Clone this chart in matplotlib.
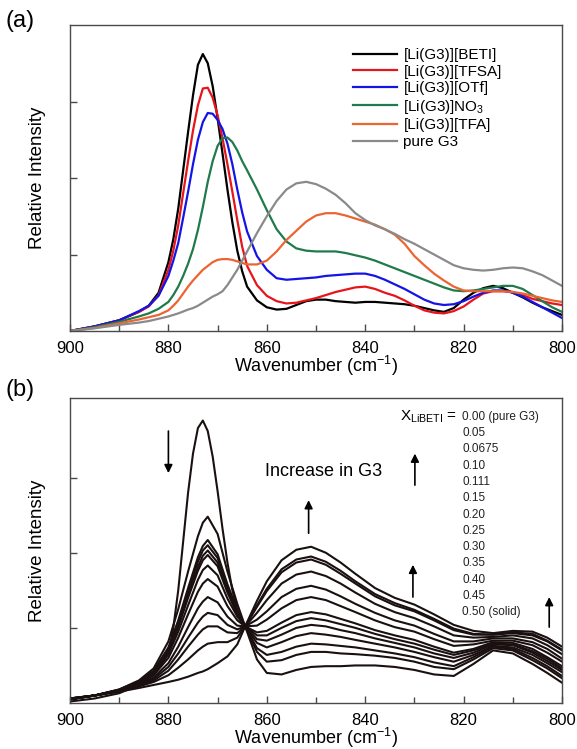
import matplotlib
matplotlib.use("Agg")
import matplotlib.pyplot as plt

plt.rcParams['font.family'] = ['Liberation Sans', 'DejaVu Sans']
plt.rcParams['mathtext.fontset'] = 'custom'
plt.rcParams['mathtext.rm'] = 'Liberation Sans'
plt.rcParams['mathtext.it'] = 'Liberation Sans:italic'

# ---- panel (a): Raman spectra of the equimolar complexes ----
wn_a = [900, 895, 890, 886, 884, 882, 880, 879, 878, 877, 876, 875, 874, 873, 872, 871, 870,
        869, 868, 867, 866, 865, 864, 862, 860, 858, 856, 854, 852, 850, 848, 846,
        844, 842, 840, 838, 836, 834, 832, 830, 828, 826, 824, 822, 820, 818, 816,
        814, 812, 810, 808, 806, 804, 802, 800]

beti = [0.00, 0.06, 0.14, 0.25, 0.33, 0.50, 0.90, 1.20, 1.60, 2.10, 2.60, 3.08, 3.48, 3.62, 3.50, 3.20, 2.78,
        2.32, 1.85, 1.42, 1.05, 0.78, 0.58, 0.40, 0.31, 0.28, 0.29, 0.34, 0.39, 0.41, 0.41, 0.39,
        0.38, 0.37, 0.38, 0.38, 0.37, 0.36, 0.35, 0.33, 0.30, 0.27, 0.25, 0.30, 0.41, 0.50, 0.56,
        0.59, 0.56, 0.50, 0.44, 0.37, 0.31, 0.26, 0.21]
tfsa = [0.00, 0.06, 0.14, 0.25, 0.32, 0.47, 0.80, 1.05, 1.38, 1.80, 2.22, 2.62, 2.95, 3.17, 3.18, 3.05, 2.82,
        2.52, 2.18, 1.82, 1.45, 1.10, 0.85, 0.60, 0.46, 0.39, 0.36, 0.37, 0.40, 0.43, 0.47, 0.51,
        0.54, 0.57, 0.58, 0.55, 0.50, 0.46, 0.40, 0.33, 0.27, 0.24, 0.23, 0.26, 0.32, 0.41, 0.49,
        0.52, 0.52, 0.51, 0.47, 0.42, 0.39, 0.36, 0.34]
otf = [0.00, 0.06, 0.14, 0.26, 0.33, 0.46, 0.72, 0.92, 1.15, 1.48, 1.82, 2.18, 2.50, 2.73, 2.85, 2.84, 2.76,
       2.64, 2.45, 2.18, 1.85, 1.55, 1.30, 0.98, 0.80, 0.69, 0.67, 0.68, 0.69, 0.70, 0.72, 0.73,
       0.74, 0.75, 0.75, 0.72, 0.67, 0.61, 0.55, 0.48, 0.41, 0.36, 0.34, 0.35, 0.39, 0.45, 0.50,
       0.53, 0.53, 0.50, 0.45, 0.38, 0.31, 0.24, 0.17]
no3 = [0.00, 0.05, 0.12, 0.19, 0.23, 0.29, 0.38, 0.47, 0.58, 0.72, 0.88, 1.07, 1.32, 1.62, 1.95, 2.22, 2.42,
       2.52, 2.53, 2.47, 2.36, 2.22, 2.10, 1.85, 1.58, 1.33, 1.17, 1.08, 1.05, 1.04, 1.04, 1.04,
       1.02, 0.99, 0.96, 0.92, 0.87, 0.82, 0.77, 0.72, 0.67, 0.62, 0.57, 0.53, 0.52, 0.53, 0.55,
       0.57, 0.59, 0.59, 0.55, 0.47, 0.39, 0.31, 0.25]
tfa = [0.00, 0.04, 0.10, 0.15, 0.18, 0.21, 0.27, 0.33, 0.40, 0.49, 0.58, 0.66, 0.73, 0.80, 0.85, 0.90, 0.93,
       0.94, 0.94, 0.93, 0.91, 0.89, 0.87, 0.87, 0.92, 1.04, 1.19, 1.31, 1.43, 1.51, 1.54, 1.54,
       1.51, 1.47, 1.43, 1.39, 1.33, 1.26, 1.14, 0.98, 0.86, 0.75, 0.66, 0.58, 0.53, 0.52, 0.52,
       0.52, 0.52, 0.51, 0.49, 0.46, 0.43, 0.40, 0.38]
g3 = [0.00, 0.035, 0.08, 0.11, 0.13, 0.16, 0.19, 0.21, 0.23, 0.255, 0.28, 0.30, 0.33, 0.37, 0.41, 0.45, 0.48,
      0.52, 0.60, 0.70, 0.80, 0.92, 1.04, 1.28, 1.50, 1.70, 1.85, 1.93, 1.95, 1.92, 1.86, 1.78,
      1.67, 1.54, 1.45, 1.38, 1.33, 1.27, 1.20, 1.14, 1.07, 1.00, 0.93, 0.86, 0.82, 0.80, 0.79,
      0.80, 0.82, 0.83, 0.82, 0.78, 0.73, 0.66, 0.59]

labels_a = ['[Li(G3)][BETI]', '[Li(G3)][TFSA]', '[Li(G3)][OTf]',
            '[Li(G3)]NO$_3$', '[Li(G3)][TFA]', 'pure G3']
colors_a = ['#000000', '#e8141c', '#1414e6', '#1f7a4c', '#ec6432', '#8a8a8a']

# ---- panel (b): G3 / LiBETI mixtures ----
wn_b = [900, 895, 890, 886, 883, 880, 878, 876, 874, 873, 872, 870, 868, 866, 864.4,
        862, 860, 857, 854, 851, 848, 845, 842, 838, 834, 830, 826, 822, 818, 814,
        810, 806, 803, 800]

b_000 = [0.06, 0.10, 0.15, 0.20, 0.24, 0.28, 0.31, 0.35, 0.40, 0.42, 0.45, 0.53, 0.62, 0.78, 1.02,
         1.36, 1.62, 1.90, 2.04, 2.08, 2.00, 1.87, 1.72, 1.53, 1.40, 1.31, 1.18, 1.04, 0.96, 0.93,
         0.96, 0.95, 0.87, 0.75]
b_005 = [0.06, 0.10, 0.16, 0.22, 0.28, 0.37, 0.47, 0.58, 0.70, 0.75, 0.79, 0.81, 0.81, 0.87, 1.02,
         1.30, 1.52, 1.78, 1.91, 1.95, 1.88, 1.76, 1.62, 1.45, 1.33, 1.24, 1.12, 0.99, 0.92, 0.91,
         0.94, 0.92, 0.83, 0.71]
b_0675 = [0.06, 0.10, 0.16, 0.23, 0.30, 0.43, 0.58, 0.75, 0.91, 0.98, 1.02, 1.02, 0.94, 0.93, 1.02,
          1.28, 1.49, 1.74, 1.87, 1.91, 1.84, 1.72, 1.59, 1.42, 1.30, 1.22, 1.10, 0.97, 0.91, 0.91,
          0.93, 0.90, 0.82, 0.70]
b_010 = [0.06, 0.10, 0.16, 0.24, 0.32, 0.48, 0.66, 0.87, 1.07, 1.15, 1.20, 1.17, 1.04, 0.98, 1.02,
         1.20, 1.37, 1.59, 1.71, 1.75, 1.69, 1.59, 1.47, 1.32, 1.21, 1.13, 1.02, 0.90, 0.87, 0.88,
         0.90, 0.86, 0.77, 0.65]
b_0111 = [0.06, 0.10, 0.16, 0.25, 0.34, 0.53, 0.75, 1.01, 1.26, 1.35, 1.41, 1.34, 1.15, 1.03, 1.02,
          1.11, 1.22, 1.41, 1.52, 1.56, 1.51, 1.42, 1.32, 1.20, 1.10, 1.03, 0.92, 0.82, 0.82, 0.86,
          0.86, 0.81, 0.72, 0.59]
b_015 = [0.05, 0.10, 0.17, 0.26, 0.37, 0.60, 0.87, 1.18, 1.48, 1.59, 1.65, 1.55, 1.29, 1.10, 1.02,
         1.03, 1.11, 1.26, 1.37, 1.41, 1.37, 1.29, 1.21, 1.10, 1.01, 0.95, 0.85, 0.76, 0.78, 0.83,
         0.83, 0.77, 0.67, 0.55]
b_020 = [0.05, 0.10, 0.17, 0.27, 0.39, 0.65, 0.95, 1.30, 1.64, 1.77, 1.83, 1.70, 1.39, 1.15, 1.02,
         0.94, 0.96, 1.07, 1.17, 1.21, 1.18, 1.12, 1.06, 0.97, 0.90, 0.84, 0.75, 0.67, 0.72, 0.81,
         0.80, 0.72, 0.61, 0.49]
b_025 = [0.05, 0.10, 0.17, 0.28, 0.41, 0.68, 1.01, 1.40, 1.76, 1.90, 1.97, 1.82, 1.47, 1.18, 1.02,
         0.90, 0.90, 1.00, 1.09, 1.13, 1.10, 1.05, 1.00, 0.92, 0.85, 0.79, 0.71, 0.64, 0.70, 0.79,
         0.78, 0.69, 0.59, 0.46]
b_030 = [0.05, 0.10, 0.17, 0.28, 0.41, 0.70, 1.04, 1.44, 1.81, 1.96, 2.03, 1.87, 1.50, 1.20, 1.02,
         0.85, 0.83, 0.91, 1.00, 1.04, 1.02, 0.97, 0.93, 0.86, 0.80, 0.74, 0.66, 0.60, 0.67, 0.78,
         0.77, 0.67, 0.56, 0.44]
b_035 = [0.05, 0.10, 0.17, 0.28, 0.42, 0.72, 1.07, 1.49, 1.88, 2.03, 2.10, 1.93, 1.54, 1.22, 1.02,
         0.80, 0.74, 0.81, 0.89, 0.93, 0.91, 0.88, 0.84, 0.79, 0.74, 0.68, 0.61, 0.55, 0.64, 0.76,
         0.74, 0.64, 0.53, 0.41]
b_040 = [0.05, 0.10, 0.18, 0.29, 0.43, 0.74, 1.10, 1.53, 1.94, 2.09, 2.17, 1.98, 1.58, 1.24, 1.02,
         0.73, 0.64, 0.68, 0.75, 0.79, 0.78, 0.76, 0.74, 0.70, 0.66, 0.61, 0.54, 0.49, 0.61, 0.75,
         0.72, 0.60, 0.49, 0.36]
b_045 = [0.05, 0.10, 0.18, 0.30, 0.46, 0.82, 1.25, 1.75, 2.22, 2.40, 2.48, 2.25, 1.75, 1.32, 1.02,
         0.68, 0.55, 0.57, 0.64, 0.68, 0.68, 0.66, 0.65, 0.63, 0.60, 0.55, 0.48, 0.45, 0.58, 0.73,
         0.70, 0.57, 0.46, 0.33]

# the solid (0.50) spectrum has a sharper peak, so it gets a denser axis
wn_b050 = [900, 895, 890, 886, 883, 880, 879, 878, 877, 876, 875, 874, 873, 872, 871, 870,
           869, 868, 867, 866, 864.4, 862, 860, 857, 854, 851, 848, 845, 842, 838, 834, 830,
           826, 822, 818, 814, 810, 806, 803, 800]
b_050 = [0.02, 0.06, 0.13, 0.24, 0.38, 0.65, 1.00, 1.50, 2.15, 2.80, 3.32, 3.66, 3.76, 3.62, 3.28, 2.82,
         2.32, 1.87, 1.50, 1.24, 1.02, 0.58, 0.40, 0.38, 0.44, 0.48, 0.49, 0.49, 0.50, 0.50, 0.48, 0.44,
         0.38, 0.36, 0.52, 0.70, 0.66, 0.52, 0.40, 0.27]

x_libeti = ['0.00 (pure G3)', '0.05', '0.0675', '0.10', '0.111', '0.15', '0.20',
            '0.25', '0.30', '0.35', '0.40', '0.45', '0.50 (solid)']

W, H = 577, 749
fig = plt.figure(figsize=(W / 100, H / 100), dpi=100)
ax_a = fig.add_axes([70 / W, 1 - 331 / H, 492 / W, 306 / H])
ax_b = fig.add_axes([70 / W, 1 - 703 / H, 492 / W, 305 / H])

frame = '#4a4a4a'


def style(ax, top):
    ax.set_xlim(900, 800)
    ax.set_ylim(0, top)
    ax.set_xticks([900, 880, 860, 840, 820, 800])
    ax.set_xticks([890, 870, 850, 830, 810], minor=True)
    ax.set_yticks([1, 2, 3])
    ax.set_yticklabels([])
    ax.tick_params(axis='both', which='both', direction='in', top=False, right=False,
                   color=frame, width=1.0)
    ax.tick_params(axis='x', which='major', length=5, labelsize=12, pad=7)
    ax.tick_params(axis='x', which='minor', length=4)
    ax.tick_params(axis='y', length=5)
    for s in ax.spines.values():
        s.set_color(frame)
        s.set_linewidth(1.0)
    ax.set_xlabel('Wavenumber (cm$^{-1}$)', fontsize=13, labelpad=-1)
    ax.set_ylabel('Relative Intensity', fontsize=13.5, labelpad=14)


# panel (a)
series_a = [beti, tfsa, otf, no3, tfa, g3]
handles = []
for ys, lab, col in zip(series_a, labels_a, colors_a):
    h, = ax_a.plot(wn_a, ys, color=col, lw=1.6, label=lab)
    handles.append(h)
style(ax_a, 4.0)
ax_a.legend(handles=handles, loc='upper left', bbox_to_anchor=(353 / W, 1 - 48 / H),
            bbox_transform=fig.transFigure, frameon=False, fontsize=11,
            handlelength=2.9, handletextpad=0.4, labelspacing=0.17, borderpad=0,
            borderaxespad=0)

# panel (b)
series_b = [b_000, b_005, b_0675, b_010, b_0111, b_015, b_020, b_025, b_030, b_035, b_040, b_045]
for ys in series_b:
    ax_b.plot(wn_b, ys, color='#1a1010', lw=1.5)
ax_b.plot(wn_b050, b_050, color='#1a1010', lw=1.5)
style(ax_b, 4.06)

ax_b.text(848.4, 3.08, 'Increase in G3', fontsize=13, ha='center', va='center')
ax_b.text(821.3, 3.81, r'X$_{\mathrm{LiBETI}}$ =', fontsize=11, ha='right', va='center')
for k, lab in enumerate(x_libeti):
    ax_b.text(820.3, 3.81 - k * 0.217, lab, fontsize=8.5, ha='left', va='center',
              color='#222222')

arrow = dict(arrowstyle='-|>', lw=1.2, color='black', mutation_scale=12, shrinkA=0, shrinkB=0)
ax_b.annotate('', xy=(880.0, 3.06), xytext=(880.0, 3.62), arrowprops=arrow)
ax_b.annotate('', xy=(829.9, 3.32), xytext=(829.9, 2.90), arrowprops=arrow)
ax_b.annotate('', xy=(851.5, 2.70), xytext=(851.5, 2.26), arrowprops=arrow)
ax_b.annotate('', xy=(830.3, 1.84), xytext=(830.3, 1.41), arrowprops=arrow)
ax_b.annotate('', xy=(802.6, 1.41), xytext=(802.6, 1.01), arrowprops=arrow)

fig.text(20 / W, 1 - 21 / H, '(a)', fontsize=17, ha='center', va='center')
fig.text(20 / W, 1 - 390 / H, '(b)', fontsize=17, ha='center', va='center')

fig.savefig('out.png', dpi=100)
